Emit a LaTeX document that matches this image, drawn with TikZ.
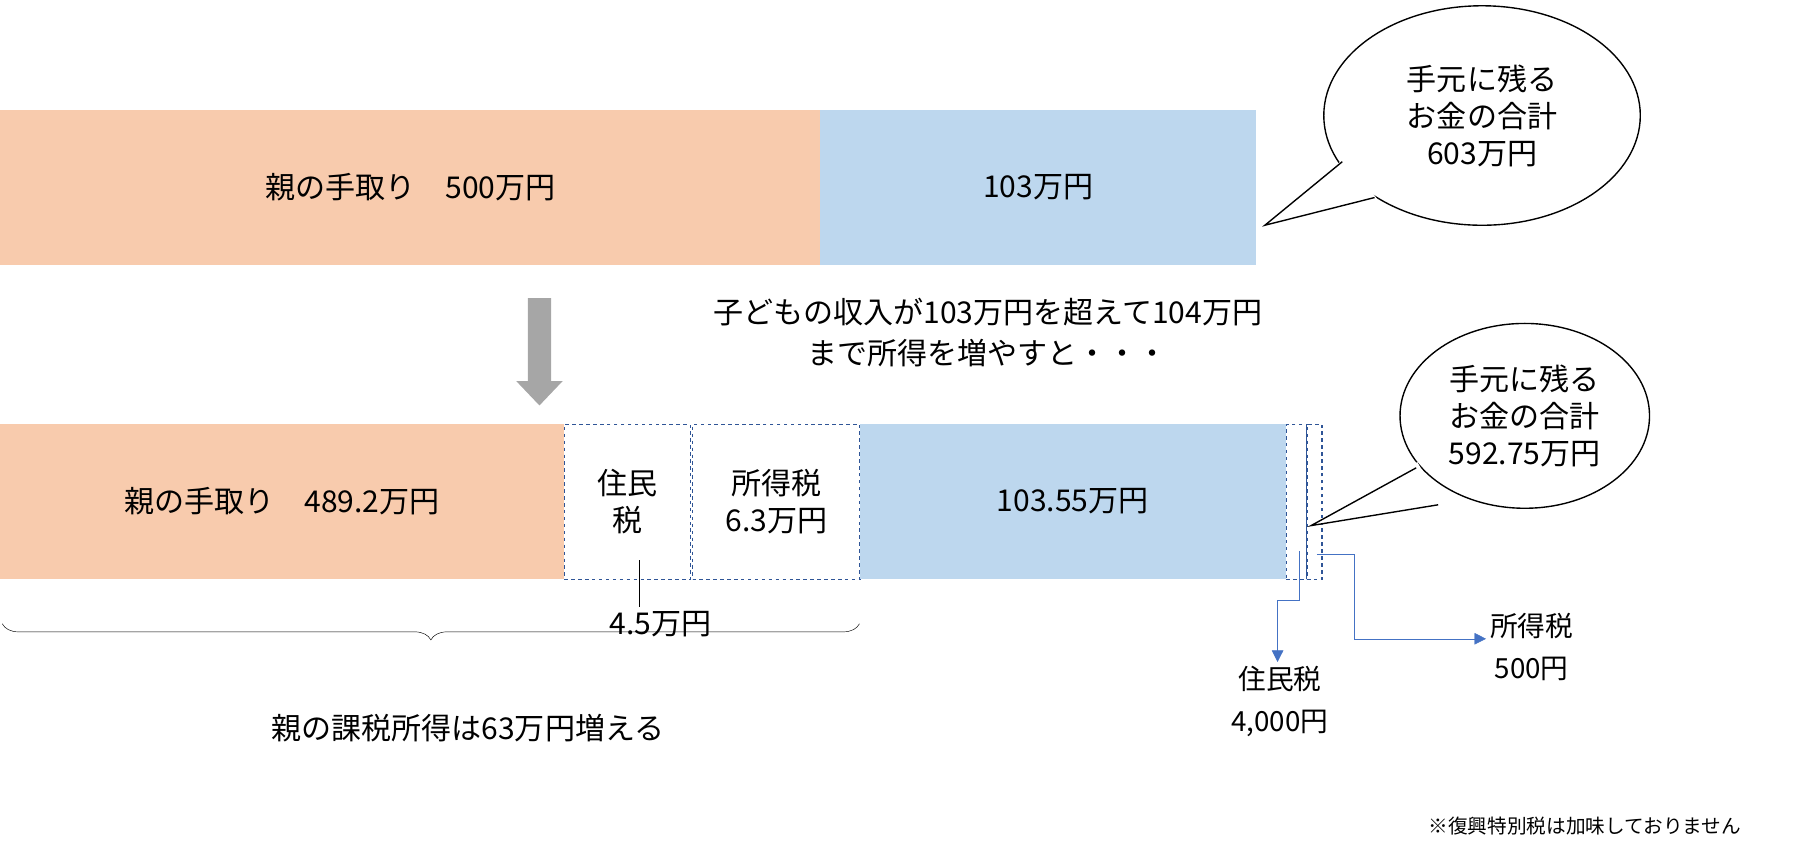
\documentclass[tikz,border=0pt]{standalone}
\usepackage{fontspec}
\setmainfont{Noto Sans CJK JP}
\usetikzlibrary{positioning,decorations.pathreplacing,arrows.meta}
\definecolor{parentfill}{HTML}{F8CBAD}
\definecolor{childfill}{HTML}{BDD7EE}
\definecolor{taxline}{HTML}{2F5597}
\definecolor{pointer}{HTML}{4472C4}
\tikzset{
  bar/.style={minimum height=134pt, inner sep=0pt, font=\fontsize{26}{32}\selectfont, anchor=north west},
  taxbox/.style={bar, draw=taxline, dashed, line width=1pt, fill=white, align=center},
  label/.style={font=\fontsize{26}{32}\selectfont, align=center},
  callout/.style={draw, line width=1.2pt, fill=white}
}
\begin{document}
\begin{tikzpicture}[x=1pt,y=1pt,yscale=-1]
  \useasboundingbox (0,0) rectangle (1560,736);

  %top bar
  \node[bar, fill=parentfill, minimum width=710pt] (ptop) at (0,95) {親の手取り　500万円};
  \node[bar, fill=childfill, minimum width=377pt] (ctop) at (710,95) {103万円};

  %callout top
  \fill[white] (1095,195) -- (1160,140) -- (1190,172) -- cycle;
  \draw[callout] (1283,100) ellipse [x radius=137, y radius=95];
  \fill[white] (1095,195) -- (1165,136) -- (1195,176) -- cycle;
  \draw[line width=1.2pt] (1162,140) -- (1095,195) -- (1190,171);
  \node[label] (sumtop) at (1283,100) {手元に残る\\お金の合計\\603万円};

  %gray arrow
  \fill[gray!70] (457,258) -- (477,258) -- (477,330) -- (487,330) -- (467,351) -- (447,330) -- (457,330) -- cycle;

  \node[label, font=\fontsize{26}{36}\selectfont] (cond) at (855,288) {子どもの収入が103万円を超えて104万円\\まで所得を増やすと・・・};

  %bottom bar
  \node[bar, fill=parentfill, minimum width=488pt] (pbot) at (0,367) {親の手取り　489.2万円};
  \node[taxbox, minimum width=109pt] (jumin) at (488,367) {住民\\税};
  \node[taxbox, minimum width=145pt] (shotoku) at (599,367) {所得税\\6.3万円};
  \node[bar, fill=childfill, minimum width=369pt] (cbot) at (744,367) {103.55万円};
  \node[taxbox, minimum width=18pt] (jsmall) at (1113,367) {};
  \node[taxbox, minimum width=13pt] (ssmall) at (1131,367) {};

  \node[label] (jamount) at (572,540) {4.5万円};
  \draw (553,485) -- (jamount.north -| 553,485);

  %brace
  \draw[decorate, decoration={brace, amplitude=14pt, mirror}] (2,540) -- (744,540);
  \node[label] (gain) at (405,630) {親の課税所得は63万円増える};

  %callout bottom
  \draw[callout] (1320,360) ellipse [x radius=108, y radius=80];
  \fill[white] (1135,455) -- (1227,400) -- (1250,440) -- cycle;
  \draw[line width=1.2pt] (1226,405) -- (1135,455) -- (1245,437);
  \node[label] (sumbot) at (1320,360) {手元に残る\\お金の合計\\592.75万円};

  %small tax pointers
  \node[label, font=\fontsize{24}{36}\selectfont] (jtext) at (1108,607) {住民税\\4,000円};
  \node[label, font=\fontsize{24}{36}\selectfont] (stext) at (1326,560) {所得税\\500円};
  \draw[pointer, -{Triangle[length=10pt,width=10pt]}] (1125,477) -- (1125,520) -- (1106,520) -- (jtext.north -| 1106,520);
  \draw[pointer, -{Triangle[length=10pt,width=10pt]}] (1140,480) -- (1172,480) -- (1172,553) -- (stext.west |- 1172,553);

  \node[font=\fontsize{17}{20}\selectfont] (note) at (1372,715) {※復興特別税は加味しておりません};
\end{tikzpicture}
\end{document}
